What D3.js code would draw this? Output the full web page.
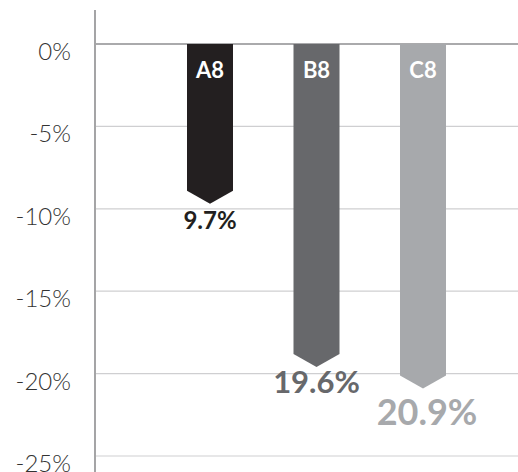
<html>
<head>
  <meta charset="utf-8">
  <script src="https://cdnjs.cloudflare.com/ajax/libs/d3/7.8.5/d3.min.js"></script>
  <style>
    body { margin: 0; background: #fff; }
  </style>
</head>
<body>
  <div id="viz"></div>
  <script>
    // chart data
    var categories = ["A8", "B8", "C8"];
    var values = [-9.7, -19.6, -20.9];
    var valueLabels = ["9.7%", "19.6%", "20.9%"];
    var ticks = [0, -5, -10, -15, -20, -25];

    var colors = ["#231f20", "#67686b", "#a7a9ac"];
    var labelSizes = [24, 31, 36];
    var labelGaps = [8, 4, 11];

    var width = 518, height = 472,
        plotLeft = 96, plotTop = 44, plotBottom = 456,
        barW = 46, arrowH = 13;

    var svg = d3.select("#viz").append("svg")
        .attr("width", width)
        .attr("height", height);

    var y = d3.scaleLinear().domain([0, -25]).range([plotTop, plotBottom]);
    var x = d3.scalePoint().domain(categories).range([210, 423]);

    // grid lines
    svg.selectAll("line.grid")
        .data(ticks)
        .enter().append("line")
        .attr("class", "grid")
        .attr("x1", plotLeft).attr("x2", width)
        .attr("y1", function (d) { return y(d); })
        .attr("y2", function (d) { return y(d); })
        .style("stroke", function (d) { return d === 0 ? "#8e8e90" : "#cfcfd1"; })
        .style("stroke-width", function (d) { return d === 0 ? 1.6 : 1.2; });

    // tick labels
    svg.selectAll("text.tick")
        .data(ticks)
        .enter().append("text")
        .attr("class", "tick")
        .attr("x", 71)
        .attr("y", function (d) { return y(d) + 16; })
        .style("text-anchor", "end")
        .style("font-family", "Lato, sans-serif")
        .style("font-weight", 300)
        .style("font-size", "24px")
        .style("fill", "#333")
        .text(function (d) { return d + "%"; });

    // vertical axis
    svg.append("line")
        .attr("x1", 95).attr("x2", 95)
        .attr("y1", 10).attr("y2", height)
        .style("stroke", "#8e8e90")
        .style("stroke-width", 1.6);

    // arrow bars
    svg.selectAll("path.bar")
        .data(values)
        .enter().append("path")
        .attr("class", "bar")
        .attr("d", function (d, i) {
            var cx = x(categories[i]), x0 = cx - barW / 2, x1 = cx + barW / 2;
            var tip = y(d), end = tip - arrowH;
            return "M" + x0 + "," + y(0) + "L" + x1 + "," + y(0) +
                "L" + x1 + "," + end + "L" + cx + "," + tip +
                "L" + x0 + "," + end + "Z";
        })
        .style("fill", function (d, i) { return colors[i]; });

    // category labels inside bars
    svg.selectAll("text.cat")
        .data(categories)
        .enter().append("text")
        .attr("class", "cat")
        .attr("x", function (d) { return x(d); })
        .attr("y", 78)
        .style("text-anchor", "middle")
        .style("font-family", "Lato, sans-serif")
        .style("font-weight", 700)
        .style("font-size", "22px")
        .style("fill", "#fff")
        .text(function (d) { return d; });

    // value labels under the arrows
    svg.selectAll("text.val")
        .data(values)
        .enter().append("text")
        .attr("class", "val")
        .attr("x", function (d, i) { return x(categories[i]) + (i === 2 ? 4 : 0); })
        .attr("y", function (d, i) { return y(d) + labelGaps[i] + labelSizes[i] * 0.72; })
        .style("text-anchor", "middle")
        .style("font-family", "Lato, sans-serif")
        .style("font-weight", 700)
        .style("font-size", function (d, i) { return labelSizes[i] + "px"; })
        .style("fill", function (d, i) { return colors[i]; })
        .text(function (d, i) { return valueLabels[i]; });
  </script>
</body>
</html>
